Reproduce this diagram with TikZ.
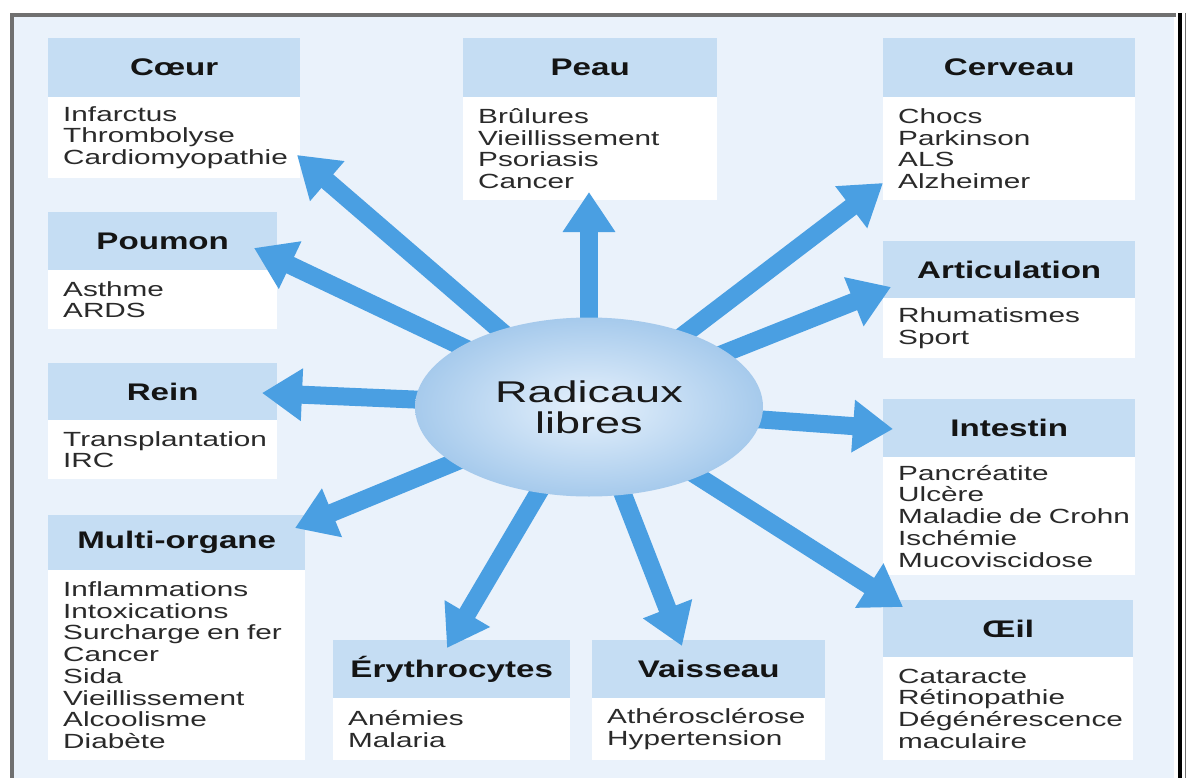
\documentclass[tikz,border=0pt]{standalone}
\usepackage{fontspec}
\usetikzlibrary{arrows.meta,shapes.geometric}
\newfontfamily\bodyf[FakeStretch=1.45]{Liberation Sans}
\newfontfamily\headf[FakeStretch=1.38]{Liberation Sans}
\newfontfamily\radf[FakeStretch=1.5]{Liberation Sans}
\definecolor{bgc}{HTML}{EAF2FB}
\definecolor{hdc}{HTML}{C5DDF3}
\definecolor{arrc}{HTML}{4A9FE2}
\definecolor{ellin}{HTML}{E6F1FC}
\definecolor{ellout}{HTML}{A6CAEC}
\definecolor{framec}{HTML}{707070}
\definecolor{bodytxt}{HTML}{2A2A2A}
\hyphenpenalty=10000
\exhyphenpenalty=10000
\pgfdeclarelayer{bglayer}
\pgfdeclarelayer{boxlayer}
\pgfdeclarelayer{arrlayer}
\pgfsetlayers{bglayer,boxlayer,arrlayer,main}
\begin{document}
\begin{tikzpicture}[x=1pt,y=-1pt,
  hd/.style={rectangle, fill=hdc, anchor=north west, inner sep=0pt,
    font=\headf\bfseries\fontsize{24}{26}\selectfont, text=black!92},
  bd/.style={rectangle, fill=white, anchor=north west, inner xsep=0pt, inner ysep=0pt,
    align=left, execute at begin node={\leftskip=15pt\relax},
    font=\bodyf\fontsize{20.5}{21.7}\selectfont, text=bodytxt},
  arr/.style={draw=arrc, line width=18pt, -{Triangle[width=50pt,length=40pt]}}]
\useasboundingbox (0,0) rectangle (1193,778);
\begin{pgfonlayer}{bglayer}
  \fill[white] (0,0) rectangle (1193,778);
  \fill[bgc] (14,17) rectangle (1174,778);
  \draw[framec, line width=4.5pt] (12,778) -- (12,15) -- (1176,15);
  \draw[black, line width=3.5pt] (1180,13) -- (1180,778);
  \draw[framec, line width=1.5pt] (1185.5,13) -- (1185.5,778);
\end{pgfonlayer}

% centre
\node[ellipse, minimum width=348pt, minimum height=179pt, inner sep=0pt,
  shading=radial, inner color=ellin, outer color=ellout, align=center,
  font=\radf\fontsize{30}{31}\selectfont, text=black!90] (rad) at (589,407) {Radicaux\\libres};

% boxes
\begin{pgfonlayer}{boxlayer}
\node[hd, minimum width=252pt, minimum height=59pt] (coeurH) at (48,38) {Cœur};
\node[bd, text width=252pt, minimum height=81pt] (coeurB) at (48,97) {Infarctus\\Thrombolyse\\Cardiomyopathie};

\node[hd, minimum width=254pt, minimum height=59pt] (peauH) at (463,38) {Peau};
\node[bd, text width=254pt, minimum height=103pt] (peauB) at (463,97) {Brûlures\\Vieillissement\\Psoriasis\\Cancer};

\node[hd, minimum width=252pt, minimum height=59pt] (cervH) at (883,38) {Cerveau};
\node[bd, text width=252pt, minimum height=103pt] (cervB) at (883,97) {Chocs\\Parkinson\\ALS\\Alzheimer};

\node[hd, minimum width=229pt, minimum height=58pt] (poumH) at (48,212) {Poumon};
\node[bd, text width=229pt, minimum height=59pt] (poumB) at (48,270) {Asthme\\ARDS};

\node[hd, minimum width=252pt, minimum height=57pt] (artH) at (883,241) {Articulation};
\node[bd, text width=252pt, minimum height=60pt] (artB) at (883,298) {Rhumatismes\\Sport};

\node[hd, minimum width=229pt, minimum height=57pt] (reinH) at (48,363) {Rein};
\node[bd, text width=229pt, minimum height=59pt] (reinB) at (48,420) {Transplantation\\IRC};

\node[hd, minimum width=252pt, minimum height=58pt] (intH) at (883,399) {Intestin};
\node[bd, text width=252pt, minimum height=118pt] (intB) at (883,457) {Pancréatite\\Ulcère\\Maladie de Crohn\\Ischémie\\Mucoviscidose};

\node[hd, minimum width=257pt, minimum height=55pt] (multH) at (48,515) {Multi-organe};
\node[bd, text width=257pt, minimum height=190pt] (multB) at (48,570) {Inflammations\\Intoxications\\Surcharge en fer\\Cancer\\Sida\\Vieillissement\\Alcoolisme\\Diabète};

\node[hd, minimum width=237pt, minimum height=58pt] (eryH) at (333,640) {Érythrocytes};
\node[bd, text width=237pt, minimum height=62pt] (eryB) at (333,698) {Anémies\\Malaria};

\node[hd, minimum width=233pt, minimum height=58pt] (vaisH) at (592,640) {Vaisseau};
\node[bd, text width=233pt, minimum height=62pt] (vaisB) at (592,698) {Athérosclérose\\Hypertension};

\node[hd, minimum width=250pt, minimum height=57pt] (oeilH) at (883,600) {Œil};
\node[bd, text width=250pt, minimum height=103pt] (oeilB) at (883,657) {Cataracte\\Rétinopathie\\Dégénérescence\\maculaire};
\end{pgfonlayer}

% arrow tips
\coordinate (tCoeur) at (297,155);
\coordinate (tPoum) at (254,248);
\coordinate (tRein) at (262,393);
\coordinate (tMult) at (295,528);
\coordinate (tEry) at (447,648);
\coordinate (tVais) at (682,646);
\coordinate (tOeil) at (903,607);
\coordinate (tInt) at (893,429);
\coordinate (tArt) at (891,287);
\coordinate (tCerv) at (883,183);
\coordinate (tPeau) at (589,192);

\begin{pgfonlayer}{arrlayer}
  \foreach \t in {tCoeur,tPoum,tRein,tMult,tEry,tVais,tOeil,tInt,tArt,tCerv,tPeau}
    \draw[arr] (rad.center) -- (\t);
\end{pgfonlayer}
\end{tikzpicture}
\end{document}
